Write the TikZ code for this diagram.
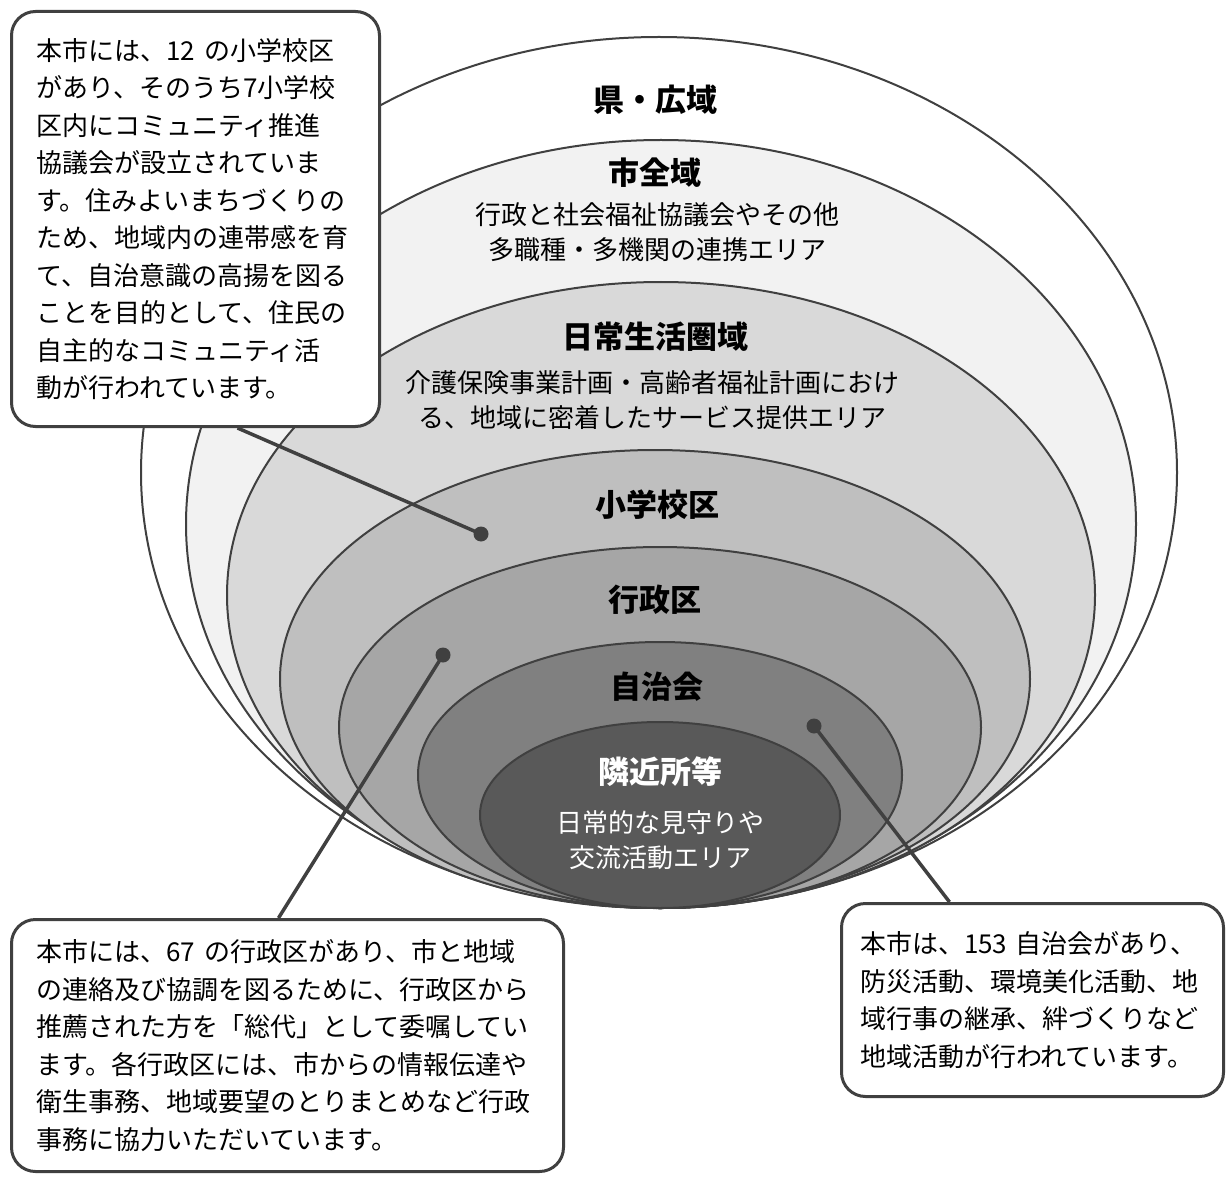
\documentclass[tikz,border=0pt]{standalone}
\usepackage{fontspec}
\setmainfont{Noto Sans CJK JP}
\usepackage{tikz}

\definecolor{trait}{HTML}{404040}
\definecolor{zoneA}{HTML}{F2F2F2}
\definecolor{zoneB}{HTML}{D9D9D9}
\definecolor{zoneC}{HTML}{BFBFBF}
\definecolor{zoneD}{HTML}{A6A6A6}
\definecolor{zoneE}{HTML}{808080}
\definecolor{zoneF}{HTML}{595959}

\begin{document}
\begin{tikzpicture}[x=1pt, y=-1pt,
    zone/.style={draw=trait, line width=2pt},
    titre/.style={font=\fontsize{31}{36}\selectfont\bfseries},
    soustitre/.style={font=\fontsize{26}{35}\selectfont, align=center},
    bulle/.style={draw=trait, line width=3pt, rounded corners=24pt, fill=white,
        anchor=north west, align=left, font=\fontsize{26}{37.5}\selectfont},
    point/.style={circle, fill=trait, inner sep=0pt, minimum size=15pt},
    lien/.style={draw=trait, line width=3.5pt}]
    \path[use as bounding box, fill=white] (0,0) rectangle (1226,1182);

    % Zones emboitees
    \foreach \cx/\cy/\rx/\ry/\col in {659/472.5/518/435.5/white,
        661/524/475/384/zoneA, 661/595/434/313/zoneB, 655/679/375/229/zoneC,
        660/727.5/321/180.5/zoneD, 660/775/242/133/zoneE, 660/815/180/93/zoneF}
        \draw[zone, fill=\col] (\cx,\cy) ellipse [x radius=\rx pt, y radius=\ry pt];

    % Libelles des zones
    \node[titre] (ken) at (655,100) {県・広域};
    \node[titre] (shi) at (655,173) {市全域};
    \node[soustitre] (shiTxt) at (657,232) {行政と社会福祉協議会やその他\\多職種・多機関の連携エリア};
    \node[titre] (nichijo) at (655,337) {日常生活圏域};
    \node[soustitre] (nichijoTxt) at (652,400) {介護保険事業計画・高齢者福祉計画におけ\\る、地域に密着したサービス提供エリア};
    \node[titre] (shogaku) at (657,505) {小学校区};
    \node[titre] (gyosei) at (655,600) {行政区};
    \node[titre] (jichi) at (657,687) {自治会};
    \node[titre, white] (tonari) at (660,772) {隣近所等};
    \node[soustitre, white] (tonariTxt) at (660,840) {日常的な見守りや\\交流活動エリア};

    % Bulles
    \node[bulle, text width=318pt, inner xsep=25pt, minimum height=415pt] (bulleA) at (10,10)
        {本市には、12 の小学校区\\があり、そのうち7小学校\\区内にコミュニティ推進\\協議会が設立されていま\\す。住みよいまちづくりの\\ため、地域内の連帯感を育\\て、自治意識の高揚を図る\\ことを目的として、住民の\\自主的なコミュニティ活\\動が行われています。};
    \node[bulle, text width=502pt, inner xsep=25pt, minimum height=252pt] (bulleB) at (10,918)
        {本市には、67 の行政区があり、市と地域\\の連絡及び協調を図るために、行政区から\\推薦された方を「総代」として委嘱してい\\ます。各行政区には、市からの情報伝達や\\衛生事務、地域要望のとりまとめなど行政\\事務に協力いただいています。};
    \node[bulle, text width=345pt, inner xsep=18.5pt, minimum height=193pt] (bulleC) at (840,902)
        {本市は、153 自治会があり、\\防災活動、環境美化活動、地\\域行事の継承、絆づくりなど\\地域活動が行われています。};

    % Liens
    \coordinate (pA) at (481,534);
    \coordinate (pB) at (443,655);
    \coordinate (pC) at (814,726);
    \draw[lien] (pA) -- ([xshift=42pt]bulleA.south);
    \draw[lien] (pB) -- ([xshift=-9pt]bulleB.north);
    \draw[lien] (pC) -- ([xshift=-83pt]bulleC.north);
    \node[point] (dotA) at (pA) {};
    \node[point] (dotB) at (pB) {};
    \node[point] (dotC) at (pC) {};
\end{tikzpicture}
\end{document}
